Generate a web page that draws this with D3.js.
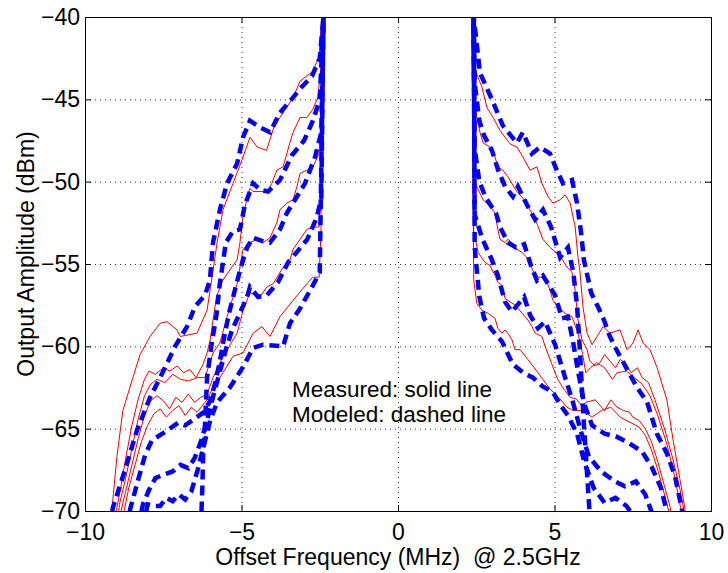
<!DOCTYPE html>
<html>
<head>
	<meta charset="utf-8">
	<title>spectrum</title>
	<script type="text/javascript" src="https://cdn.jsdelivr.net/npm/d3@7"></script>
	<style type="text/css">
		body{ margin: 0; background: #fff; }
		text{ font-family: "Liberation Sans", Arial, Helvetica, sans-serif; fill: #000; }
		.tick text{ font-size: 23px; }
		.axis-label{ font-size: 23px; }
		.note{ font-size: 22.5px; }
	</style>
</head>
<body>
<svg width="728" height="573"></svg>
<script type="text/javascript">
	// tick values
	var xTicks = [-10, -5, 0, 5, 10];
	var yTicks = [-70, -65, -60, -55, -50, -45, -40];

	// measured spectra (solid red), [offset MHz, dBm]
	var meas1 = [[-9.2,-71],[-9.14,-69.9],[-8.98,-66.7],[-8.79,-63.9],[-8.47,-61.9],[-8.24,-60.5],[-7.92,-59.4],[-7.6,-58.6],[-7.38,-58.5],[-7.06,-59.0],[-6.96,-59.4],[-6.42,-59.2],[-6.1,-57.8],[-5.91,-55.4],[-5.78,-53.7],[-5.59,-51.7],[-5.27,-50.1],[-4.95,-48.5],[-4.73,-47.3],[-4.5,-47.9],[-4.2,-48.1],[-3.95,-46.6],[-3.77,-46.1],[-3.35,-44.9],[-3.13,-43.9],[-2.72,-43.3],[-2.52,-42.4],[-2.44,-40],[-2.42,-36],
		[2.33,-36],[2.36,-40],[2.46,-43.2],[2.68,-44.25],[2.84,-45.5],[3.04,-46.1],[3.26,-46.9],[3.58,-47.7],[3.8,-47.9],[3.99,-48.5],[4.22,-49.3],[4.44,-49.1],[4.6,-50.1],[4.79,-50.9],[4.95,-51.3],[5.18,-51.1],[5.34,-50.8],[5.5,-51.3],[5.66,-52.75],[5.75,-54.6],[5.81,-55.4],[5.91,-57.6],[6.04,-59.2],[6.2,-59.9],[6.36,-59.4],[6.55,-58.8],[6.77,-59.2],[7.09,-59.0],[7.32,-60.2],[7.51,-59.8],[7.67,-59.0],[7.83,-59.8],[8.05,-60.2],[8.27,-61.25],[8.59,-63.25],[8.79,-65.7],[9.01,-68.1],[9.17,-69.9],[9.25,-71]];
	var meas2 = [[-9.05,-71],[-9.0,-70],[-8.85,-68.5],[-8.7,-66.8],[-8.5,-64.8],[-8.3,-63.2],[-8.1,-62.0],[-7.95,-61.5],[-7.75,-61.7],[-7.5,-61.3],[-7.3,-61.5],[-7.05,-61.2],[-6.85,-61.6],[-6.65,-61.4],[-6.45,-61.9],[-6.23,-61.1],[-6.1,-60.4],[-6.0,-59.6],[-5.91,-58.4],[-5.8,-57.0],[-5.6,-56.0],[-5.35,-55.3],[-5.14,-54.75],[-5.05,-53.7],[-4.95,-52.1],[-4.82,-51.0],[-4.73,-50.4],[-4.63,-50.6],[-4.41,-50.6],[-4.19,-50.6],[-4.03,-50.1],[-3.87,-49.3],[-3.67,-49.1],[-3.45,-47.6],[-3.35,-47.0],[-3.13,-46.1],[-2.91,-46.1],[-2.72,-45.6],[-2.56,-44.9],[-2.46,-43],[-2.44,-40],[-2.42,-36],
		[2.33,-36],[2.36,-40],[2.4,-44],[2.46,-45.6],[2.62,-47.0],[2.72,-47.65],[2.94,-47.9],[3.1,-48.5],[3.19,-49.1],[3.35,-49.3],[3.51,-49.7],[3.67,-50.2],[3.8,-50.6],[3.99,-51.0],[4.15,-51.5],[4.31,-52.0],[4.45,-52.6],[4.63,-53.5],[4.86,-54.0],[5.05,-54.3],[5.24,-54.7],[5.4,-55.2],[5.56,-55.5],[5.66,-56.6],[5.75,-58.4],[5.88,-59.6],[6.04,-60.2],[6.13,-60.9],[6.3,-61.2],[6.45,-61.0],[6.6,-60.5],[6.77,-60.9],[6.95,-61.3],[7.1,-60.8],[7.25,-61.0],[7.45,-61.6],[7.65,-61.3],[7.8,-61.9],[8.0,-62.2],[8.21,-63.25],[8.53,-65.1],[8.79,-66.9],[9.01,-68.7],[9.14,-70],[9.2,-71]];
	var meas3 = [[-8.97,-71],[-8.9,-69.6],[-8.7,-68.0],[-8.5,-66.2],[-8.3,-64.4],[-8.1,-63.0],[-7.9,-62.3],[-7.7,-62.0],[-7.45,-62.2],[-7.2,-61.7],[-6.95,-62.0],[-6.7,-62.1],[-6.4,-61.9],[-6.17,-61.9],[-6.01,-61.0],[-5.91,-60.4],[-5.69,-59.8],[-5.46,-58.2],[-5.14,-56.2],[-4.95,-54.1],[-4.73,-53.7],[-4.5,-53.5],[-4.31,-53.7],[-4.09,-53.4],[-3.87,-52.5],[-3.77,-51.7],[-3.55,-51.3],[-3.35,-51.1],[-3.23,-50.3],[-3.13,-49.5],[-2.91,-49.3],[-2.72,-49.1],[-2.52,-48.3],[-2.46,-46],[-2.44,-40],[-2.42,-36],
		[2.33,-36],[2.36,-40],[2.4,-48],[2.46,-50.1],[2.62,-50.7],[2.72,-51.1],[2.94,-51.5],[3.1,-51.9],[3.19,-52.9],[3.26,-53.5],[3.42,-53.7],[3.51,-53.5],[3.64,-53.7],[3.8,-54.1],[3.96,-54.3],[4.12,-54.6],[4.31,-55.4],[4.47,-55.8],[4.7,-55.8],[4.86,-56.6],[4.95,-57.2],[5.11,-57.6],[5.34,-58.0],[5.56,-58.2],[5.75,-59.2],[5.9,-60.5],[6.0,-61.6],[6.15,-61.3],[6.35,-61.0],[6.6,-61.3],[6.85,-62.0],[7.0,-61.6],[7.3,-61.5],[7.55,-61.9],[7.8,-62.3],[8.05,-63.0],[8.3,-64.2],[8.6,-66.0],[8.85,-68.0],[9.05,-70],[9.1,-71]];
	var meas4 = [[-8.9,-71],[-8.85,-70],[-8.7,-68.8],[-8.5,-67.2],[-8.3,-65.6],[-8.1,-64.2],[-7.9,-63.3],[-7.7,-63.0],[-7.5,-63.3],[-7.3,-63.8],[-7.1,-63.1],[-6.9,-63.4],[-6.7,-62.9],[-6.5,-63.4],[-6.3,-63.1],[-6.1,-62.9],[-5.91,-61.9],[-5.69,-61.0],[-5.46,-60.2],[-5.14,-59.2],[-4.95,-57.8],[-4.73,-56.75],[-4.41,-57.0],[-4.19,-56.4],[-3.99,-56.2],[-3.67,-55.2],[-3.45,-54.75],[-3.35,-54.1],[-3.13,-53.5],[-2.91,-52.9],[-2.72,-52.75],[-2.52,-52.75],[-2.46,-50],[-2.44,-40],[-2.42,-36],
		[2.33,-36],[2.36,-40],[2.42,-53],[2.56,-54.3],[2.78,-54.9],[2.94,-55.1],[3.1,-55.7],[3.19,-56.1],[3.32,-56.3],[3.42,-57.1],[3.58,-57.3],[3.74,-57.5],[3.83,-57.7],[4.06,-58.2],[4.15,-58.4],[4.28,-58.8],[4.38,-59.2],[4.6,-59.4],[4.7,-60.0],[4.9,-61.0],[5.1,-62.0],[5.3,-62.6],[5.5,-63.1],[5.7,-63.2],[5.9,-63.7],[6.0,-63.4],[6.3,-63.25],[6.6,-63.9],[6.8,-63.25],[7.0,-63.7],[7.2,-63.9],[7.4,-64.0],[7.5,-64.3],[7.7,-64.5],[7.9,-65.0],[8.1,-65.8],[8.3,-67.0],[8.5,-68.4],[8.7,-69.8],[8.78,-71]];
	var meas5 = [[-8.8,-71],[-8.75,-70],[-8.6,-68.6],[-8.4,-67.2],[-8.2,-65.8],[-8.0,-64.8],[-7.8,-64.1],[-7.6,-63.8],[-7.4,-64.3],[-7.2,-63.9],[-7.0,-63.6],[-6.8,-64.2],[-6.6,-63.7],[-6.42,-64.0],[-6.1,-63.25],[-5.91,-62.5],[-5.59,-61.6],[-5.27,-60.6],[-4.95,-60.4],[-4.63,-59.2],[-4.35,-58.8],[-4.09,-59.4],[-3.77,-58.2],[-3.35,-57.2],[-2.91,-56.2],[-2.72,-55.8],[-2.52,-55.8],[-2.46,-53],[-2.44,-40],[-2.42,-36],
		[2.33,-36],[2.36,-40],[2.42,-56],[2.52,-57.4],[2.68,-57.8],[2.88,-58.0],[3.1,-58.3],[3.19,-58.9],[3.32,-59.2],[3.42,-59.0],[3.51,-59.2],[3.64,-59.6],[3.74,-60.2],[3.9,-60.2],[4.15,-60.8],[4.47,-61.6],[4.86,-62.6],[5.18,-63.2],[5.4,-63.7],[5.6,-63.9],[5.9,-63.9],[6.2,-64.3],[6.5,-63.9],[6.8,-63.7],[7.1,-64.3],[7.4,-64.6],[7.7,-64.9],[7.9,-65.4],[8.1,-66.3],[8.3,-67.5],[8.5,-68.9],[8.65,-70],[8.7,-71]];

	// modeled spectra (dashed blue)
	var model1 = [[-9.2,-71],[-9.11,-69.8],[-8.72,-67.5],[-8.34,-65.1],[-7.92,-63.1],[-7.6,-61.9],[-7.12,-60.0],[-6.74,-58.8],[-6.49,-57.6],[-6.17,-56.9],[-6.01,-56.0],[-5.91,-53.7],[-5.69,-51.7],[-5.46,-50.1],[-5.14,-48.9],[-4.95,-47.3],[-4.73,-46.3],[-4.41,-46.7],[-4.09,-47.0],[-3.77,-45.8],[-3.4,-45.0],[-3.1,-44.3],[-2.75,-43.6],[-2.5,-42.5],[-2.38,-40],[-2.36,-36],
		[2.4,-36],[2.42,-40],[2.62,-43.4],[3.0,-45.0],[3.35,-46.6],[3.8,-47.65],[3.99,-47.0],[4.28,-48.3],[4.54,-47.9],[4.86,-48.3],[5.05,-49.2],[5.27,-50.1],[5.56,-49.9],[5.72,-51.3],[5.85,-53.1],[5.94,-54.75],[6.17,-56.75],[6.39,-57.6],[6.58,-58.4],[6.77,-59.4],[6.95,-60.1],[7.32,-61.4],[7.64,-62.5],[7.96,-63.4],[8.27,-65.3],[8.59,-66.5],[8.85,-67.9],[9.07,-69.9],[9.15,-71]];
	var model2 = [[-6.3,-71],[-6.27,-69.6],[-6.25,-68.5],[-6.22,-66.3],[-6.17,-64.9],[-6.1,-61.9],[-5.95,-59.8],[-5.8,-58.1],[-5.7,-56.3],[-5.6,-55.0],[-5.5,-53.7],[-5.27,-53.0],[-5.05,-52.9],[-4.89,-51.4],[-4.63,-50.1],[-4.4,-50.5],[-4.15,-50.6],[-3.77,-49.9],[-3.39,-48.4],[-3.0,-47.5],[-2.72,-46.3],[-2.5,-45],[-2.38,-40],[-2.36,-36],
		[2.4,-36],[2.42,-40],[2.45,-44],[2.6,-46.3],[2.75,-47.2],[3.0,-48.1],[3.2,-49.3],[3.42,-50.3],[3.67,-50.9],[3.83,-50.3],[4.12,-51.4],[4.38,-52.3],[4.63,-51.7],[4.89,-52.75],[5.18,-54.6],[5.43,-54.0],[5.6,-55.5],[5.72,-57.5],[5.82,-60.5],[5.9,-63.5],[6.0,-66.5],[6.1,-69.5],[6.15,-71]];
	var model3 = [[-8.6,-71],[-8.56,-69.9],[-8.3,-68.1],[-8.08,-66.6],[-7.86,-65.7],[-7.44,-65.2],[-7.03,-64.65],[-6.8,-64.8],[-6.5,-64.4],[-6.2,-64.0],[-6.0,-63.3],[-5.85,-62.3],[-5.7,-61.0],[-5.55,-59.4],[-5.4,-58.0],[-5.2,-56.5],[-5.05,-55.4],[-4.95,-54.75],[-4.82,-54.0],[-4.63,-53.4],[-4.35,-53.6],[-4.09,-53.7],[-3.77,-52.9],[-3.55,-51.9],[-3.29,-51.1],[-2.97,-50.1],[-2.65,-48.5],[-2.45,-47],[-2.38,-40],[-2.36,-36],
		[2.4,-36],[2.42,-40],[2.45,-48],[2.6,-50.0],[2.81,-51.0],[3.13,-51.9],[3.26,-52.75],[3.51,-53.7],[3.77,-54.0],[4.03,-53.8],[4.25,-55.1],[4.44,-56.0],[4.63,-55.7],[5.02,-56.9],[5.24,-58.3],[5.43,-58.2],[5.6,-59.8],[5.75,-61.5],[5.95,-63.5],[6.2,-64.8],[6.6,-65.3],[7.0,-65.5],[7.4,-65.9],[7.8,-66.4],[8.1,-67.3],[8.4,-68.6],[8.65,-70.5],[8.7,-71]];
	var model4 = [[-8.3,-71],[-8.15,-69.6],[-7.95,-68.7],[-7.75,-68.0],[-7.5,-67.8],[-7.2,-67.6],[-6.95,-67.2],[-6.7,-67.4],[-6.5,-66.8],[-6.3,-65.8],[-6.1,-64.5],[-5.9,-63.0],[-5.7,-61.6],[-5.5,-60.2],[-5.3,-59.0],[-5.05,-57.97],[-4.82,-57.0],[-4.73,-56.4],[-4.47,-57.0],[-4.19,-56.9],[-3.83,-56.1],[-3.51,-54.9],[-3.2,-54.2],[-2.9,-53.5],[-2.6,-52.2],[-2.45,-51],[-2.38,-40],[-2.36,-36],
		[2.4,-36],[2.42,-40],[2.45,-52],[2.7,-53.5],[3.0,-54.75],[3.19,-55.7],[3.42,-57.3],[3.64,-57.9],[3.9,-57.3],[4.03,-57.0],[4.22,-58.1],[4.47,-58.9],[4.7,-58.5],[5.02,-59.9],[5.34,-61.9],[5.59,-63.4],[5.85,-65.2],[6.1,-66.7],[6.49,-67.6],[6.93,-68.2],[7.25,-68.5],[7.6,-68.2],[7.9,-69.0],[8.15,-70.3],[8.2,-71]];
	var model5 = [[-8.15,-71],[-8.0,-69.6],[-7.8,-69.7],[-7.6,-69.7],[-7.4,-69.2],[-7.2,-69.4],[-7.0,-69.0],[-6.8,-69.3],[-6.6,-68.8],[-6.4,-67.5],[-6.2,-66.0],[-6.0,-64.5],[-5.78,-63.4],[-5.37,-62.5],[-4.95,-61.25],[-4.63,-60.1],[-4.31,-59.9],[-3.67,-60.0],[-3.45,-58.6],[-3.13,-57.7],[-2.72,-56.3],[-2.5,-55.5],[-2.38,-40],[-2.36,-36],
		[2.4,-36],[2.42,-40],[2.45,-54],[2.6,-57],[2.75,-58.3],[3.0,-59.0],[3.32,-59.7],[3.67,-61.1],[4.0,-61.6],[4.31,-61.9],[4.6,-62.4],[4.95,-62.8],[5.2,-63.6],[5.43,-64.2],[5.72,-65.3],[5.95,-67.0],[6.25,-68.6],[6.6,-69.5],[6.95,-69.2],[7.3,-69.7],[7.6,-70.5],[7.7,-71]];

	var measured = [meas1, meas2, meas3, meas4, meas5];
	var modeled = [model1, model2, model3, model4, model5];

	var svg = d3.select("svg"),
		margin = {top: 17, right: 17, bottom: 62, left: 85},
		width = +svg.attr("width") - margin.left - margin.right,
		height = +svg.attr("height") - margin.top - margin.bottom;

	var x = d3.scaleLinear().domain([-10, 10]).range([0, width]),
		y = d3.scaleLinear().domain([-70, -40]).range([height, 0]);

	var g = svg.append("g").attr("transform", `translate(${margin.left},${margin.top})`);

	g.append("clipPath").attr("id", "plot-clip")
		.append("rect").attr("width", width).attr("height", height);

	// dotted grid
	var grid = g.append("g").attr("class", "grid")
		.attr("stroke", "#333").attr("stroke-width", 1).attr("stroke-dasharray", "1,4");
	grid.selectAll(".gx").data(xTicks.slice(1, -1)).enter().append("line")
		.attr("x1", d => x(d) + 0.5).attr("x2", d => x(d) + 0.5)
		.attr("y1", 0).attr("y2", height);
	grid.selectAll(".gy").data(yTicks.slice(1, -1)).enter().append("line")
		.attr("y1", d => y(d) + 0.5).attr("y2", d => y(d) + 0.5)
		.attr("x1", 0).attr("x2", width);

	var line = d3.line().x(d => x(d[0])).y(d => y(d[1]));

	var plot = g.append("g").attr("clip-path", "url(#plot-clip)");
	plot.selectAll(".meas").data(measured).enter().append("path").attr("class", "meas")
		.attr("fill", "none").attr("stroke", "#ff0000").attr("stroke-width", 1)
		.attr("stroke-linejoin", "round")
		.attr("d", line);
	plot.selectAll(".model").data(modeled).enter().append("path").attr("class", "model")
		.attr("fill", "none").attr("stroke", "#0000ff").attr("stroke-width", 4.5)
		.attr("stroke-dasharray", "10,6")
		.attr("d", line);

	// axes, ticks pointing inward like matlab
	var xAxis = d3.axisBottom(x).tickValues(xTicks).tickSizeInner(-6).tickSizeOuter(0).tickPadding(13),
		yAxis = d3.axisLeft(y).tickValues(yTicks).tickSizeInner(-6).tickSizeOuter(0).tickPadding(5);
	g.append("g").attr("transform", `translate(0,${height})`).call(xAxis);
	g.append("g").call(yAxis);
	g.append("g").call(d3.axisTop(x).tickValues(xTicks).tickSizeInner(-6).tickSizeOuter(0).tickFormat(""));
	g.append("g").attr("transform", `translate(${width},0)`)
		.call(d3.axisRight(y).tickValues(yTicks).tickSizeInner(-6).tickSizeOuter(0).tickFormat(""));
	g.selectAll(".domain").remove();
	g.selectAll(".tick line").attr("stroke", "#000");
	g.selectAll(".tick text").attr("font-family", null).attr("font-size", null);

	g.append("rect").attr("x", 0.5).attr("y", 0.5).attr("width", width).attr("height", height)
		.attr("fill", "none").attr("stroke", "#000").attr("stroke-width", 1);

	// labels
	svg.append("text").attr("class", "axis-label")
		.attr("x", margin.left + width / 2).attr("y", 565)
		.attr("text-anchor", "middle")
		.text("Offset Frequency (MHz)  @ 2.5GHz")
		.attr("xml:space", "preserve").style("white-space", "pre");
	svg.append("text").attr("class", "axis-label")
		.attr("transform", "translate(34,254) rotate(-90)")
		.attr("text-anchor", "middle")
		.text("Output Amplitude (dBm)");

	svg.append("text").attr("class", "note").attr("x", 292).attr("y", 397).text("Measured: solid line");
	svg.append("text").attr("class", "note").attr("x", 292).attr("y", 422).text("Modeled: dashed line");
</script>
</body>
</html>
